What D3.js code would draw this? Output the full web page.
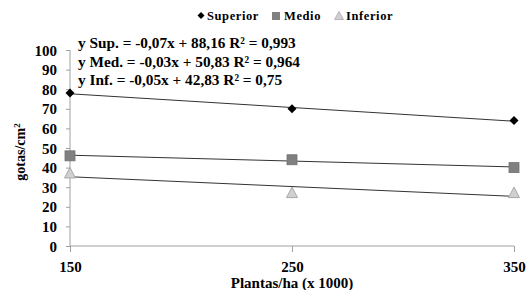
<!DOCTYPE html>
<html><head><meta charset="utf-8">
<script src="https://cdn.jsdelivr.net/npm/d3@7"></script>
<style>body{margin:0;background:#fff}svg{display:block}text{font-family:"Liberation Serif","Times New Roman",serif;font-weight:bold;fill:#000}</style>
</head><body><svg id="c" width="527" height="290"></svg>
<script>
const xValues = [150, 250, 350];
const seriesNames = ["Superior", "Medio", "Inferior"];
const superior = [78, 70, 64];
const medio = [46, 44, 40];
const inferior = [37, 27, 27];
const slopes = [-0.07, -0.03, -0.05];
const intercepts = [88.16, 50.83, 42.83];
const equations = ["y Sup. = -0,07x + 88,16 R\u00b2 = 0,993", "y Med. = -0,03x + 50,83 R\u00b2 = 0,964", "y Inf. = -0,05x + 42,83 R\u00b2 = 0,75"];
const yTicks = [0, 10, 20, 30, 40, 50, 60, 70, 80, 90, 100];
const xTicks = [150, 250, 350];

const svg = d3.select("#c");
const x = d3.scaleLinear().domain([150, 350]).range([70, 514]);
const y = d3.scaleLinear().domain([0, 100]).range([246, 50]);
const axisColor = "#a0a0a0";

// axes
const ya = svg.append("g").attr("transform", "translate(70,0)")
  .call(d3.axisLeft(y).tickValues(yTicks).tickSize(4));
const xa = svg.append("g").attr("transform", "translate(0,246)")
  .call(d3.axisBottom(x).tickValues(xTicks).tickSize(5));
[ya, xa].forEach(g => {
  g.selectAll("path,line").attr("stroke", axisColor);
  g.select(".domain").attr("d", g === ya ? "M0,246V50" : "M70,0H514");
  g.selectAll("text").style("font-family", '"Liberation Serif",serif').style("font-weight", "bold").style("font-size", "15px").attr("fill", "#000");
});
ya.selectAll(".tick text").attr("x", -13).attr("dy", "0.34em");
xa.selectAll(".tick line").attr("y1", 0).attr("y2", 6);
xa.selectAll(".tick text").attr("y", 26).attr("dy", 0);

// titles
svg.append("text").attr("x", 292).attr("y", 288).attr("text-anchor", "middle").style("font-size", "15px").text("Plantas/ha (x 1000)");
svg.append("text").attr("transform", "translate(25,152) rotate(-90)").attr("text-anchor", "middle").style("font-size", "14px")
  .html('gotas/cm<tspan dy="-5" font-size="9">2</tspan>');

const data = [superior, medio, inferior];
// trendlines
data.forEach((s, i) => {
  svg.append("line")
    .attr("x1", x(150)).attr("y1", y(slopes[i] * 150 + intercepts[i]))
    .attr("x2", x(350)).attr("y2", y(slopes[i] * 350 + intercepts[i]))
    .attr("stroke", "#333").attr("stroke-width", 1);
});

function marker(g, i, cx, cy) {
  if (i === 0) {
    g.append("path").attr("d", `M${cx},${cy-4.5}L${cx+4.5},${cy}L${cx},${cy+4.5}L${cx-4.5},${cy}Z`).attr("fill", "#000");
  } else if (i === 1) {
    g.append("rect").attr("x", cx-5).attr("y", cy-5).attr("width", 10).attr("height", 10).attr("fill", "#808080").attr("stroke", "#707070").attr("stroke-width", 0.8);
  } else {
    g.append("path").attr("d", `M${cx},${cy-6}L${cx+5.5},${cy+4.5}L${cx-5.5},${cy+4.5}Z`).attr("fill", "#d0d0d0").attr("stroke", "#a8a8a8").attr("stroke-width", 1);
  }
}
const mg = svg.append("g");
data.forEach((s, i) => s.forEach((v, j) => marker(mg, i, x(xValues[j]), y(v))));

// equations box
const eq = svg.append("g");
eq.append("rect").attr("x", 74).attr("y", 33).attr("width", 232).attr("height", 56).attr("fill", "#fff");
equations.forEach((t, i) => {
  eq.append("text").attr("x", 78).attr("y", 48 + i * 18.5).style("font-size", "15.3px").text(t);
});

// legend
const lg = svg.append("g");
const legX = [201, 276, 339];
const textX = [207, 284, 346];
seriesNames.forEach((n, i) => {
  const g = lg.append("g");
  if (i === 0) g.append("path").attr("d", `M${legX[i]},12L${legX[i]+3.5},15.5L${legX[i]},19L${legX[i]-3.5},15.5Z`).attr("fill", "#000");
  else if (i === 1) g.append("rect").attr("x", legX[i]-4).attr("y", 12).attr("width", 8).attr("height", 8).attr("fill", "#808080");
  else g.append("path").attr("d", `M${legX[i]},11.5L${legX[i]+4.5},19.5L${legX[i]-4.5},19.5Z`).attr("fill", "#d0d0d0").attr("stroke", "#a8a8a8").attr("stroke-width", 0.8);
  g.append("text").attr("x", textX[i]).attr("y", 20).style("font-size", "12.5px").style("letter-spacing", "0.6px").text(n);
});
</script></body></html>
